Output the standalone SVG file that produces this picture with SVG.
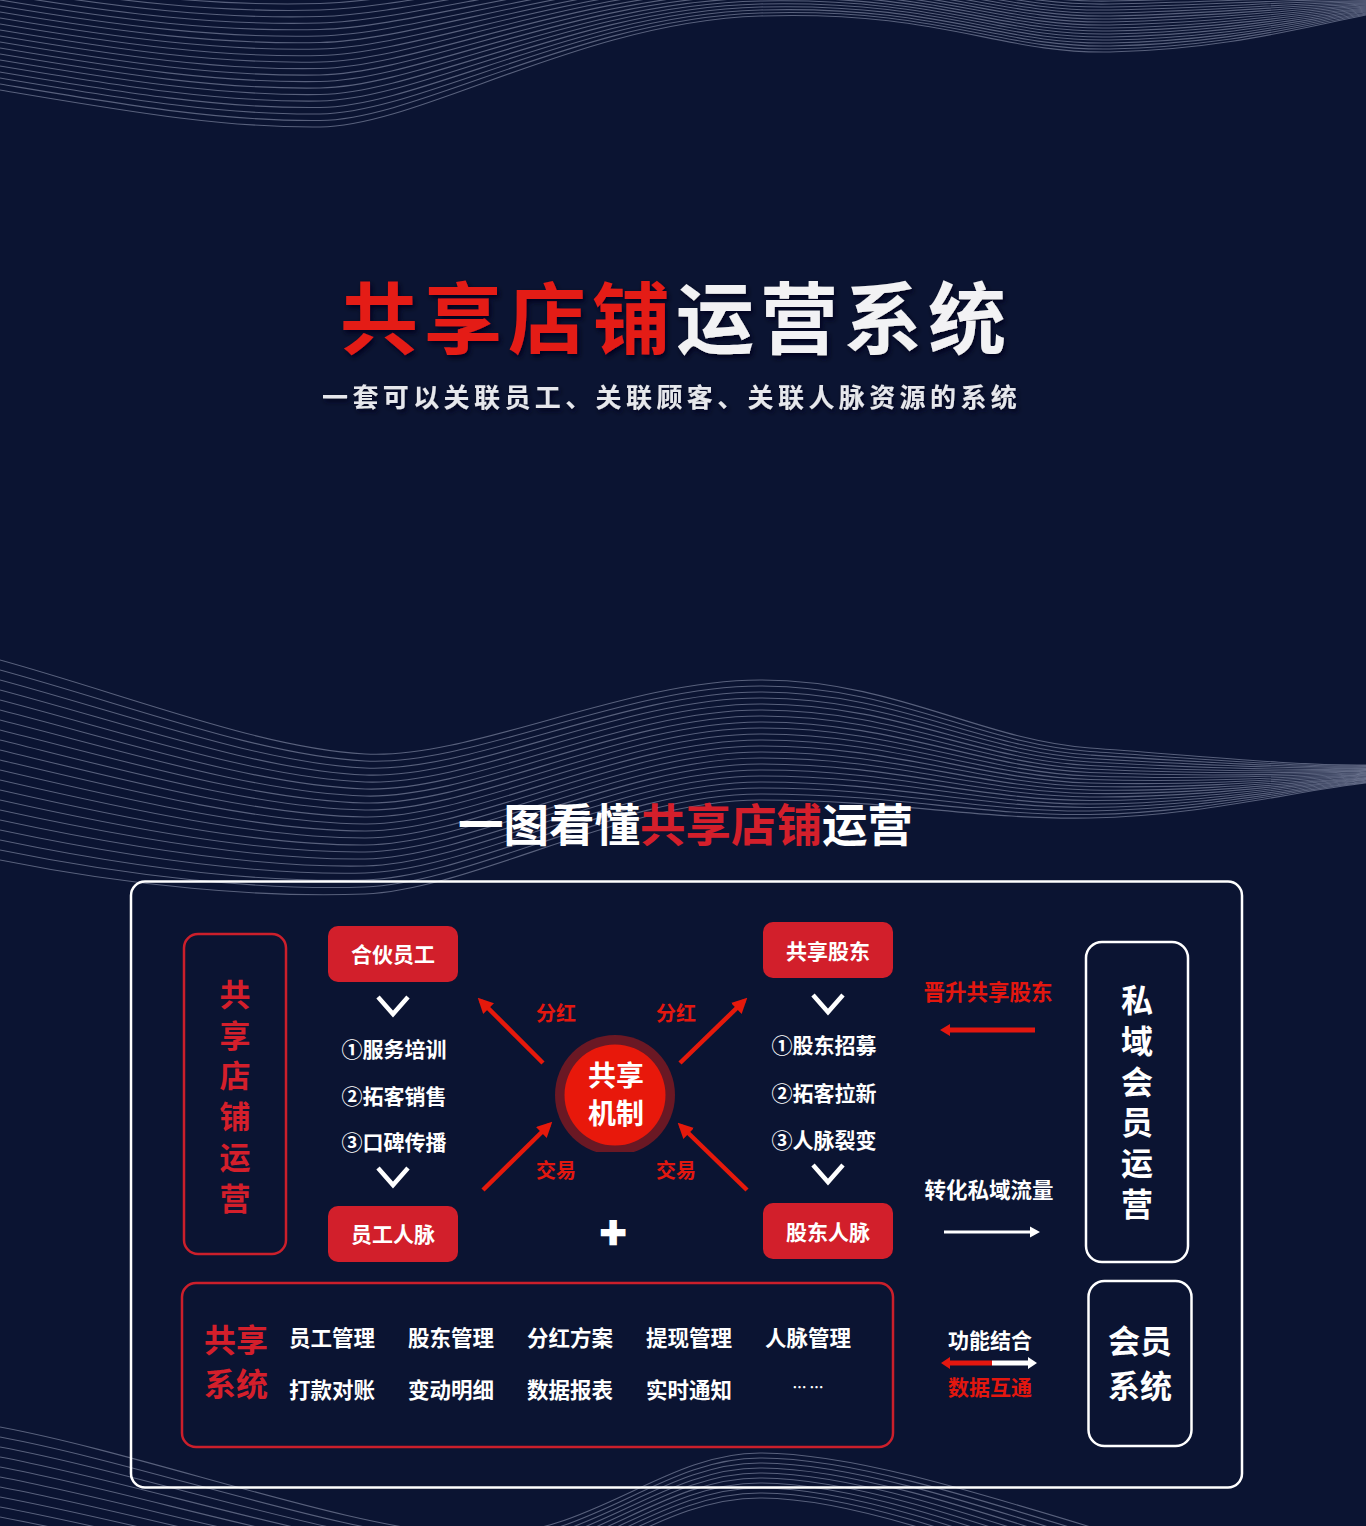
<svg xmlns="http://www.w3.org/2000/svg" width="1366" height="1526" viewBox="0 0 1366 1526">
<defs>
<style>
.wave path{fill:none;stroke:#c3cbe2;stroke-opacity:0.42;stroke-width:1.1}
.t{font-family:"Noto Sans CJK SC","Noto Sans",sans-serif;font-weight:700}
.w{fill:#ffffff}
.r{fill:#d41f2b}
.rb{fill:#e3170f}
.c{text-anchor:middle}
.pill{fill:#d21f2b}
.chev{fill:none;stroke:#ffffff;stroke-width:4.5}
.arr{stroke:#e5190b;stroke-width:4.5;fill:none;marker-end:url(#ah)}
.frameW{fill:none;stroke:#ffffff;stroke-width:2.5}
.frameR{fill:none;stroke:#cc1f2b;stroke-width:2.5}
.vert{writing-mode:vertical-rl;text-orientation:upright}
</style>
<marker id="ah" viewBox="0 0 10 10" refX="7" refY="5" markerWidth="3.4" markerHeight="3.4" orient="auto" markerUnits="strokeWidth"><path d="M0,0 L10,5 L0,10 z" fill="#e5190b"/></marker>
<filter id="sh" x="-10%" y="-20%" width="120%" height="150%"><feDropShadow dx="2" dy="3" stdDeviation="2.5" flood-color="#01051a" flood-opacity="0.95"/></filter>
<clipPath id="cc"><rect x="540" y="1020" width="150" height="132"/></clipPath>
</defs>
<rect width="1366" height="1526" fill="#0b1432"/>

<g class="wave" id="wave-top">
<path d="M0,90 C120,110 220,128 320,127 S580,22 760,16 S1000,54 1110,52 S1300,28 1366,15"/>
<path d="M0,84 C120,104 220,121.6 320,120.5 S580,18.5 760,13 S1000,51 1110,49 S1300,26 1366,14"/>
<path d="M0,78 C120,98 220,115.2 320,114 S580,15 760,10 S1000,48 1110,46 S1300,24 1366,13"/>
<path d="M0,72 C120,92 220,108.8 320,107.5 S580,11.5 760,7 S1000,45 1110,43 S1300,22 1366,12"/>
<path d="M0,66 C120,86 220,102.4 320,101 S580,8 760,4 S1000,42 1110,40 S1300,20 1366,11"/>
<path d="M0,60 C120,80 220,96 320,94.5 S580,4.5 760,1 S1000,39 1110,37 S1300,18 1366,10"/>
<path d="M0,54 C120,74 220,89.6 320,88 S580,1 760,-2 S1000,36 1110,34 S1300,16 1366,9"/>
<path d="M0,48 C120,68 220,83.2 320,81.5 S580,-2.5 760,-5 S1000,33 1110,31 S1300,14 1366,8"/>
<path d="M0,42 C120,62 220,76.8 320,75 S580,-6 760,-8 S1000,30 1110,28 S1300,12 1366,7"/>
<path d="M0,36 C120,56 220,70.4 320,68.5 S580,-9.5 760,-11 S1000,27 1110,25 S1300,10 1366,6"/>
<path d="M0,30 C120,50 220,64 320,62 S580,-13 760,-14 S1000,24 1110,22 S1300,8 1366,5"/>
<path d="M0,24 C120,44 220,57.6 320,55.5 S580,-16.5 760,-17 S1000,21 1110,19 S1300,6 1366,4"/>
<path d="M0,18 C120,38 220,51.2 320,49 S580,-20 760,-20 S1000,18 1110,16 S1300,4 1366,3"/>
<path d="M0,12 C120,32 220,44.8 320,42.5 S580,-23.5 760,-23 S1000,15 1110,13 S1300,2 1366,2"/>
<path d="M0,6 C120,26 220,38.4 320,36 S580,-27 760,-26 S1000,12 1110,10 S1300,0 1366,1"/>
<path d="M0,0 C120,20 220,32 320,29.5 S580,-30.5 760,-29 S1000,9 1110,7 S1300,-2 1366,0"/>
<path d="M0,-6 C120,14 220,25.6 320,23 S580,-34 760,-32 S1000,6 1110,4 S1300,-4 1366,-1"/>
<path d="M0,-12 C120,8 220,19.2 320,16.5 S580,-37.5 760,-35 S1000,3 1110,1 S1300,-6 1366,-2"/>
<path d="M0,-18 C120,2 220,12.8 320,10 S580,-41 760,-38 S1000,0 1110,-2 S1300,-8 1366,-3"/>
<path d="M0,-24 C120,-4 220,6.4 320,3.5 S580,-44.5 760,-41 S1000,-3 1110,-5 S1300,-10 1366,-4"/>
<path d="M0,-30 C120,-10 220,0 320,-3 S580,-48 760,-44 S1000,-6 1110,-8 S1300,-12 1366,-5"/>
</g>

<g class="wave" id="wave-mid">
<path d="M0,860 C130,886 260,898 365,894 S625,800 760,800 S980,820 1090,818 S1300,790 1366,783"/>
<path d="M0,850 C130,876.5 260,890.5 365,887 S625,794 760,794 S980,816 1090,814.5 S1300,788.8 1366,782.1"/>
<path d="M0,840 C130,867 260,883 365,880 S625,788 760,788 S980,812 1090,811 S1300,787.6 1366,781.2"/>
<path d="M0,830 C130,857.5 260,875.5 365,873 S625,782 760,782 S980,808 1090,807.5 S1300,786.4 1366,780.3"/>
<path d="M0,820 C130,848 260,868 365,866 S625,776 760,776 S980,804 1090,804 S1300,785.2 1366,779.4"/>
<path d="M0,810 C130,838.5 260,860.5 365,859 S625,770 760,770 S980,800 1090,800.5 S1300,784 1366,778.5"/>
<path d="M0,800 C130,829 260,853 365,852 S625,764 760,764 S980,796 1090,797 S1300,782.8 1366,777.6"/>
<path d="M0,790 C130,819.5 260,845.5 365,845 S625,758 760,758 S980,792 1090,793.5 S1300,781.6 1366,776.7"/>
<path d="M0,780 C130,810 260,838 365,838 S625,752 760,752 S980,788 1090,790 S1300,780.4 1366,775.8"/>
<path d="M0,770 C130,800.5 260,830.5 365,831 S625,746 760,746 S980,784 1090,786.5 S1300,779.2 1366,774.9"/>
<path d="M0,760 C130,791 260,823 365,824 S625,740 760,740 S980,780 1090,783 S1300,778 1366,774"/>
<path d="M0,750 C130,781.5 260,815.5 365,817 S625,734 760,734 S980,776 1090,779.5 S1300,776.8 1366,773.1"/>
<path d="M0,740 C130,772 260,808 365,810 S625,728 760,728 S980,772 1090,776 S1300,775.6 1366,772.2"/>
<path d="M0,730 C130,762.5 260,800.5 365,803 S625,722 760,722 S980,768 1090,772.5 S1300,774.4 1366,771.3"/>
<path d="M0,720 C130,753 260,793 365,796 S625,716 760,716 S980,764 1090,769 S1300,773.2 1366,770.4"/>
<path d="M0,710 C130,743.5 260,785.5 365,789 S625,710 760,710 S980,760 1090,765.5 S1300,772 1366,769.5"/>
<path d="M0,700 C130,734 260,778 365,782 S625,704 760,704 S980,756 1090,762 S1300,770.8 1366,768.6"/>
<path d="M0,690 C130,724.5 260,770.5 365,775 S625,698 760,698 S980,752 1090,758.5 S1300,769.6 1366,767.7"/>
<path d="M0,680 C130,715 260,763 365,768 S625,692 760,692 S980,748 1090,755 S1300,768.4 1366,766.8"/>
<path d="M0,670 C130,705.5 260,755.5 365,761 S625,686 760,686 S980,744 1090,751.5 S1300,767.2 1366,765.9"/>
<path d="M0,660 C130,696 260,748 365,754 S625,680 760,680 S980,740 1090,748 S1300,766 1366,765"/>
</g>

<g class="wave" id="wave-bottom">
<path d="M0,1427 C150,1455 350,1530 470,1535 S660,1453 760,1453 S1000,1500 1150,1545 L1400,1580"/>
<path d="M0,1437 C150,1465 350,1538 470,1541 S660,1458 760,1458 S1000,1506 1150,1552 L1400,1587"/>
<path d="M0,1447 C150,1475 350,1546 470,1547 S660,1463 760,1463 S1000,1512 1150,1559 L1400,1594"/>
<path d="M0,1457 C150,1485 350,1554 470,1553 S660,1468 760,1468 S1000,1518 1150,1566 L1400,1601"/>
<path d="M0,1467 C150,1495 350,1562 470,1559 S660,1473 760,1473 S1000,1524 1150,1573 L1400,1608"/>
<path d="M0,1477 C150,1505 350,1570 470,1565 S660,1478 760,1478 S1000,1530 1150,1580 L1400,1615"/>
<path d="M0,1487 C150,1515 350,1578 470,1571 S660,1483 760,1483 S1000,1536 1150,1587 L1400,1622"/>
<path d="M0,1497 C150,1525 350,1586 470,1577 S660,1488 760,1488 S1000,1542 1150,1594 L1400,1629"/>
<path d="M0,1507 C150,1535 350,1594 470,1583 S660,1493 760,1493 S1000,1548 1150,1601 L1400,1636"/>
<path d="M0,1517 C150,1545 350,1602 470,1589 S660,1498 760,1498 S1000,1554 1150,1608 L1400,1643"/>
</g>

<g id="title" filter="url(#sh)">
<text class="t" x="340" y="348" font-size="78" font-weight="900" letter-spacing="6"><tspan fill="#e41b14">共享店铺</tspan><tspan fill="#f2f2f4">运营系统</tspan></text>
<text class="t" x="322" y="407" font-size="26" letter-spacing="4.4" fill="#e6e7ec">一套可以关联员工、关联顾客、关联人脉资源的系统</text>
</g>

<g id="section-title">
<text class="t" x="458" y="842" font-size="45.5" font-weight="900"><tspan class="w">一图看懂</tspan><tspan fill="#d41f2b">共享店铺</tspan><tspan class="w">运营</tspan></text>
</g>

<g id="frame"><rect class="frameW" x="131" y="881.5" width="1111" height="606" rx="14"/></g>

<g id="node-left-label">
<rect class="frameR" x="184" y="934" width="102" height="320" rx="14"/>
<text class="t r vert" x="235" y="978.5" font-size="31" letter-spacing="9.8">共享店铺运营</text>
</g>

<g id="node-partner">
<rect class="pill" x="328" y="926" width="130" height="56" rx="10"/>
<text class="t w c" x="393" y="961.5" font-size="21">合伙员工</text>
</g>
<g id="node-partner-steps">
<text class="t w c" x="394" y="1056.5" font-size="21">①服务培训</text>
<text class="t w c" x="394" y="1103.5" font-size="21">②拓客销售</text>
<text class="t w c" x="394" y="1149.5" font-size="21">③口碑传播</text>
</g>
<g id="node-staff-network">
<rect class="pill" x="328" y="1206" width="130" height="56" rx="10"/>
<text class="t w c" x="393" y="1242" font-size="21">员工人脉</text>
</g>

<g id="node-shareholder">
<rect class="pill" x="763" y="922" width="130" height="56" rx="10"/>
<text class="t w c" x="828" y="958.5" font-size="21">共享股东</text>
</g>
<g id="node-shareholder-steps">
<text class="t w c" x="824" y="1052.5" font-size="21">①股东招募</text>
<text class="t w c" x="824" y="1100.5" font-size="21">②拓客拉新</text>
<text class="t w c" x="824" y="1147.5" font-size="21">③人脉裂变</text>
</g>
<g id="node-shareholder-network">
<rect class="pill" x="763" y="1203" width="130" height="56" rx="10"/>
<text class="t w c" x="828" y="1239.5" font-size="21">股东人脉</text>
</g>

<g id="node-mechanism">
<g clip-path="url(#cc)">
<circle cx="615" cy="1095" r="60" fill="#6a1824"/>
<circle cx="615" cy="1095" r="50.5" fill="#e8180b"/>
</g>
<text class="t w c" x="616" y="1085.5" font-size="28">共享</text>
<text class="t w c" x="616" y="1123.5" font-size="28">机制</text>
</g>

<g id="node-plus">
<text x="613" y="1248" font-family="Liberation Sans, Arial, sans-serif" font-weight="700" font-size="44" text-anchor="middle" fill="#ffffff" stroke="#ffffff" stroke-width="2.5">+</text>
</g>

<g id="node-private">
<rect class="frameW" x="1086" y="942" width="102" height="320" rx="16"/>
<text class="t w vert" x="1137" y="984" font-size="32" letter-spacing="8.7">私域会员运营</text>
</g>

<g id="node-system">
<rect class="frameR" x="182" y="1283" width="711" height="164" rx="14"/>
<text class="t r c" x="236" y="1351.5" font-size="32">共享</text>
<text class="t r c" x="236" y="1395.5" font-size="32">系统</text>
<g class="t w c" font-size="21.5">
<text x="332" y="1345.7">员工管理</text>
<text x="451" y="1345.7">股东管理</text>
<text x="570" y="1345.7">分红方案</text>
<text x="689" y="1345.7">提现管理</text>
<text x="808" y="1345.7">人脉管理</text>
<text x="332" y="1397.7">打款对账</text>
<text x="451" y="1397.7">变动明细</text>
<text x="570" y="1397.7">数据报表</text>
<text x="689" y="1397.7">实时通知</text>
</g>
<text class="t w c" x="808" y="1392" font-size="14">… …</text>
</g>

<g id="node-member">
<rect class="frameW" x="1088.5" y="1281" width="103" height="165" rx="16"/>
<text class="t w c" x="1140" y="1353" font-size="32">会员</text>
<text class="t w c" x="1140" y="1397.5" font-size="32">系统</text>
</g>

<g id="connectors">
<line class="arr" x1="543" y1="1063" x2="481" y2="1001"/>
<line class="arr" x1="680" y1="1063" x2="744" y2="1001"/>
<line class="arr" x1="483" y1="1190" x2="549" y2="1125"/>
<line class="arr" x1="747" y1="1190" x2="681" y2="1126"/>
<text class="t rb c" x="556" y="1020.5" font-size="20">分红</text>
<text class="t rb c" x="676" y="1020.5" font-size="20">分红</text>
<text class="t rb c" x="556" y="1177.5" font-size="20">交易</text>
<text class="t rb c" x="676" y="1177.5" font-size="20">交易</text>
<polyline class="chev" points="378,997 393,1014 408,997"/>
<polyline class="chev" points="378,1168 393,1185 408,1168"/>
<polyline class="chev" points="813,995 828,1012 843,995"/>
<polyline class="chev" points="813,1165 828,1182 843,1165"/>
<text class="t rb c" x="988" y="1000" font-size="21.5">晋升共享股东</text>
<path d="M1035,1027.5 H950 V1024 L940,1030 L950,1036 V1032.5 H1035 Z" fill="#e3170f"/>
<text class="t w c" x="989" y="1198" font-size="21.5">转化私域流量</text>
<path d="M944,1230.5 H1030 V1226.5 L1040,1232 L1030,1237.5 V1233.5 H944 Z" fill="#ffffff"/>
<text class="t w c" x="990" y="1347.5" font-size="21">功能结合</text>
<path d="M992,1360.5 H950 V1357 L941,1363 L950,1369 V1365.5 H992 Z" fill="#e3170f"/>
<path d="M992,1360.5 H1028 V1357 L1037,1363 L1028,1369 V1365.5 H992 Z" fill="#ffffff"/>
<text class="t rb c" x="990" y="1394.5" font-size="21">数据互通</text>
</g>
</svg>
